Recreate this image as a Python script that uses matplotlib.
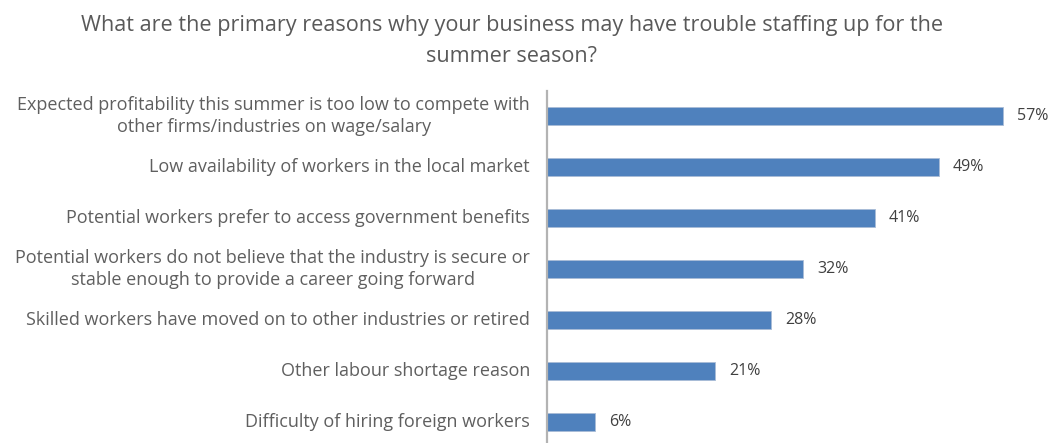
import matplotlib
matplotlib.use("Agg")
import matplotlib.pyplot as plt
from matplotlib.transforms import blended_transform_factory, offset_copy

plt.rcParams['font.family'] = ['Open Sans', 'DejaVu Sans']

title = ("What are the primary reasons why your business may have trouble staffing up for the\n"
         "summer season?")

categories = [
    "Expected profitability this summer is too low to compete with\nother firms/industries on wage/salary",
    "Low availability of workers in the local market",
    "Potential workers prefer to access government benefits",
    "Potential workers do not believe that the industry is secure or\nstable enough to provide a career going forward",
    "Skilled workers have moved on to other industries or retired",
    "Other labour shortage reason",
    "Difficulty of hiring foreign workers",
]
values = [57, 49, 41, 32, 28, 21, 6]
value_labels = ["57%", "49%", "41%", "32%", "28%", "21%", "6%"]

W, H = 1051, 443
fig = plt.figure(figsize=(W / 100, H / 100), dpi=100)

ax_left, ax_right = 547, 1051
ax_top, ax_bottom = 90.5, 447.5
ax = fig.add_axes([ax_left / W, 1 - ax_bottom / H,
                   (ax_right - ax_left) / W, (ax_bottom - ax_top) / H])

n = len(categories)
ypos = list(range(n))
ax.barh(ypos, values, height=0.35, color="#4f81bd",
        edgecolor="#a9bcd6", linewidth=0.6, zorder=2)
ax.set_ylim(n - 0.5, -0.5)
ax.set_xlim(0, 504 / 8.0)

for s in ["top", "right", "bottom"]:
    ax.spines[s].set_visible(False)
ax.spines["left"].set_color("#b3b3b3")
ax.spines["left"].set_linewidth(1.6)
ax.set_xticks([])
ax.set_yticks([])

# category labels, right aligned beside the axis
trans = blended_transform_factory(ax.transAxes, ax.transData)
lab_trans = offset_copy(trans, fig=fig, x=-17, y=0, units="dots")
for y, cat in zip(ypos, categories):
    ax.text(0, y, cat, transform=lab_trans, ha="right", va="center",
            multialignment="center", fontsize=13, color="#5f5f5f",
            linespacing=1.3)

# value labels at the bar ends
for y, v, lab in zip(ypos, values, value_labels):
    ax.annotate(lab, (v, y), xytext=(14, 0), textcoords="offset pixels",
                ha="left", va="center", fontsize=11.5, color="#404040")

fig.text(512 / W, 1 - 15 / H, title, ha="center", va="top", fontsize=15.6,
         color="#595959", linespacing=1.6)

fig.savefig("out.png", dpi=100, facecolor="white")
